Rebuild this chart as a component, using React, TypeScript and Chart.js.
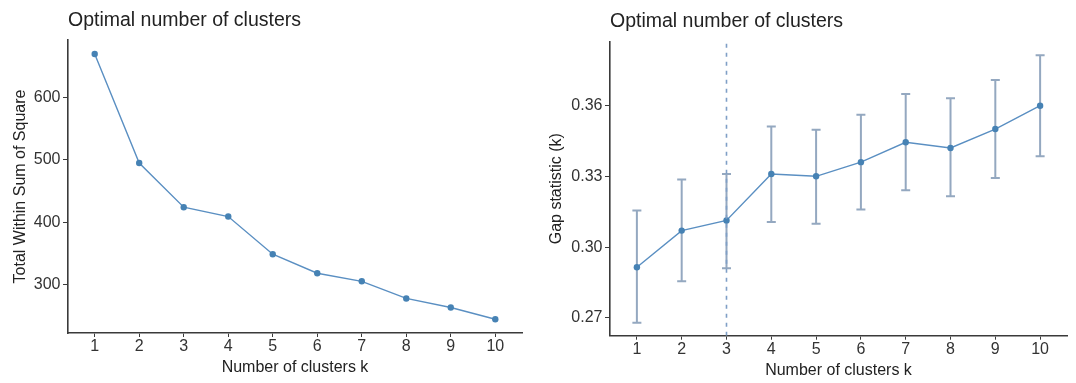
import React, { useEffect, useRef } from "react";
import { Chart, registerables } from "chart.js";

Chart.register(...registerables);

const kLabels = [1, 2, 3, 4, 5, 6, 7, 8, 9, 10];
const wssValues = [670, 495, 424, 409, 348.5, 318, 305, 277.5, 263, 244];
const wssTicks = [300, 400, 500, 600];
const gapValues = [0.2915, 0.307, 0.3113, 0.331, 0.33, 0.336, 0.3444, 0.342, 0.35, 0.3599];
const gapUpper = [0.3155, 0.3286, 0.331, 0.3511, 0.3497, 0.3561, 0.3648, 0.3631, 0.3708, 0.3813];
const gapLower = [0.268, 0.2856, 0.2911, 0.3106, 0.3099, 0.3159, 0.3241, 0.3215, 0.3293, 0.3385];
const gapTicks = [0.27, 0.3, 0.33, 0.36];
const optimalK = 3;

const TITLE = "Optimal number of clusters";
const X_TITLE = "Number of clusters k";
const WSS_Y_TITLE = "Total Within Sum of Square";
const GAP_Y_TITLE = "Gap statistic (k)";

const FONT = "'Liberation Sans', Arial, Helvetica, sans-serif";
const STEEL = "#4682B4";
const AXIS = "#3a3a3a";
const TEXT = "#333333";

Chart.defaults.font.family = FONT;

type Cfg = {
  yMin: number;
  yMax: number;
  yTicks: number[];
  yTitle: string;
  yFmt: (v: number) => string;
  yWidth: number;
  xHeight: number;
  rightPad: number;
  titlePadTop: number;
  titlePadBottom: number;
  yTitlePad: number;
  xTitlePad: number;
};

function baseOptions(c: Cfg): any {
  return {
    responsive: false,
    animation: false,
    layout: { padding: { top: 0, right: c.rightPad, bottom: 0, left: 0 } },
    plugins: {
      legend: { display: false },
      tooltip: { enabled: false },
      title: {
        display: true,
        text: TITLE,
        align: "start",
        fullSize: false,
        color: "#222",
        font: { size: 19.5, weight: "normal", family: FONT },
        padding: { top: c.titlePadTop, bottom: c.titlePadBottom },
      },
    },
    scales: {
      x: {
        type: "linear",
        min: 0.4,
        max: 10.6,
        afterBuildTicks: (scale: any) => {
          scale.ticks = kLabels.map((v) => ({ value: v }));
        },
        afterFit: (scale: any) => {
          scale.height = c.xHeight;
        },
        ticks: {
          autoSkip: false,
          maxRotation: 0,
          padding: 0,
          color: TEXT,
          font: { size: 16, family: FONT },
          callback: (v: any) => String(v),
        },
        grid: {
          drawOnChartArea: false,
          drawTicks: true,
          tickLength: 4,
          color: AXIS,
          lineWidth: 1,
        },
        border: { display: true, color: AXIS, width: 1.6 },
        title: {
          display: true,
          text: X_TITLE,
          color: "#222",
          font: { size: 16, family: FONT },
          padding: { top: 0, bottom: c.xTitlePad },
        },
      },
      y: {
        type: "linear",
        min: c.yMin,
        max: c.yMax,
        afterBuildTicks: (scale: any) => {
          scale.ticks = c.yTicks.map((v) => ({ value: v }));
        },
        afterFit: (scale: any) => {
          scale.width = c.yWidth;
        },
        ticks: {
          padding: 2.5,
          color: TEXT,
          font: { size: 16, family: FONT },
          callback: (v: any) => c.yFmt(Number(v)),
        },
        grid: {
          drawOnChartArea: false,
          drawTicks: true,
          tickLength: 5,
          color: AXIS,
          lineWidth: 1,
        },
        border: { display: true, color: AXIS, width: 1.6 },
        title: {
          display: true,
          text: c.yTitle,
          color: "#222",
          font: { size: 16, family: FONT },
          padding: { top: c.yTitlePad, bottom: 0 },
        },
      },
    },
  };
}

const errorBarPlugin = {
  id: "errorBars",
  beforeDatasetsDraw(chart: any) {
    const { ctx, scales } = chart;
    const x = scales.x;
    const y = scales.y;
    ctx.save();
    ctx.strokeStyle = "#94a8c0";
    ctx.lineWidth = 2;
    kLabels.forEach((k, i) => {
      const px = x.getPixelForValue(k);
      const yt = y.getPixelForValue(gapUpper[i]);
      const yb = y.getPixelForValue(gapLower[i]);
      ctx.beginPath();
      ctx.moveTo(px, yt);
      ctx.lineTo(px, yb);
      ctx.moveTo(px - 4.5, yt);
      ctx.lineTo(px + 4.5, yt);
      ctx.moveTo(px - 4.5, yb);
      ctx.lineTo(px + 4.5, yb);
      ctx.stroke();
    });
    ctx.restore();
  },
};

function WssChart() {
  const ref = useRef<HTMLCanvasElement>(null);
  useEffect(() => {
    if (!ref.current) return;
    const chart = new Chart(ref.current, {
      type: "line",
      data: {
        datasets: [
          {
            data: kLabels.map((k, i) => ({ x: k, y: wssValues[i] })),
            borderColor: "#5a8fc2",
            borderWidth: 1.4,
            pointRadius: 3.2,
            pointBackgroundColor: STEEL,
            pointBorderColor: STEEL,
            pointBorderWidth: 0,
            tension: 0,
          },
        ],
      },
      options: baseOptions({
        yMin: 222,
        yMax: 692.5,
        yTicks: wssTicks,
        yTitle: WSS_Y_TITLE,
        yFmt: (v) => String(v),
        yWidth: 68,
        xHeight: 50,
        rightPad: 18,
        titlePadTop: 9,
        titlePadBottom: 7.6,
        yTitlePad: 11,
        xTitlePad: 5.4,
      }),
    });
    return () => chart.destroy();
  }, []);
  return <canvas ref={ref} width={540} height={383} />;
}

function GapChart() {
  const ref = useRef<HTMLCanvasElement>(null);
  useEffect(() => {
    if (!ref.current) return;
    const yMin = 0.2625;
    const yMax = 0.387;
    const chart = new Chart(ref.current, {
      type: "line",
      data: {
        datasets: [
          {
            data: [
              { x: optimalK, y: yMin },
              { x: optimalK, y: yMax },
            ],
            borderColor: "#7f9fc6",
            borderWidth: 1.6,
            borderDash: [4, 5],
            pointRadius: 0,
            tension: 0,
          },
          {
            data: kLabels.map((k, i) => ({ x: k, y: gapValues[i] })),
            borderColor: "#5a8fc2",
            borderWidth: 1.4,
            pointRadius: 3.2,
            pointBackgroundColor: STEEL,
            pointBorderColor: STEEL,
            pointBorderWidth: 0,
            tension: 0,
          },
        ],
      },
      options: baseOptions({
        yMin,
        yMax,
        yTicks: gapTicks,
        yTitle: GAP_Y_TITLE,
        yFmt: (v) => v.toFixed(2),
        yWidth: 70,
        xHeight: 47.3,
        rightPad: 9,
        titlePadTop: 10,
        titlePadBottom: 8.3,
        yTitlePad: 7,
        xTitlePad: 2.4,
      }),
      plugins: [errorBarPlugin],
    });
    return () => chart.destroy();
  }, []);
  return <canvas ref={ref} width={536} height={383} />;
}

export default function App() {
  return (
    <div style={{ position: "absolute", left: 0, top: 0, width: 1076, height: 383, background: "#fff" }}>
      <div style={{ position: "absolute", left: 0, top: 0, width: 540, height: 383 }}>
        <WssChart />
      </div>
      <div style={{ position: "absolute", left: 540, top: 0, width: 536, height: 383 }}>
        <GapChart />
      </div>
    </div>
  );
}
